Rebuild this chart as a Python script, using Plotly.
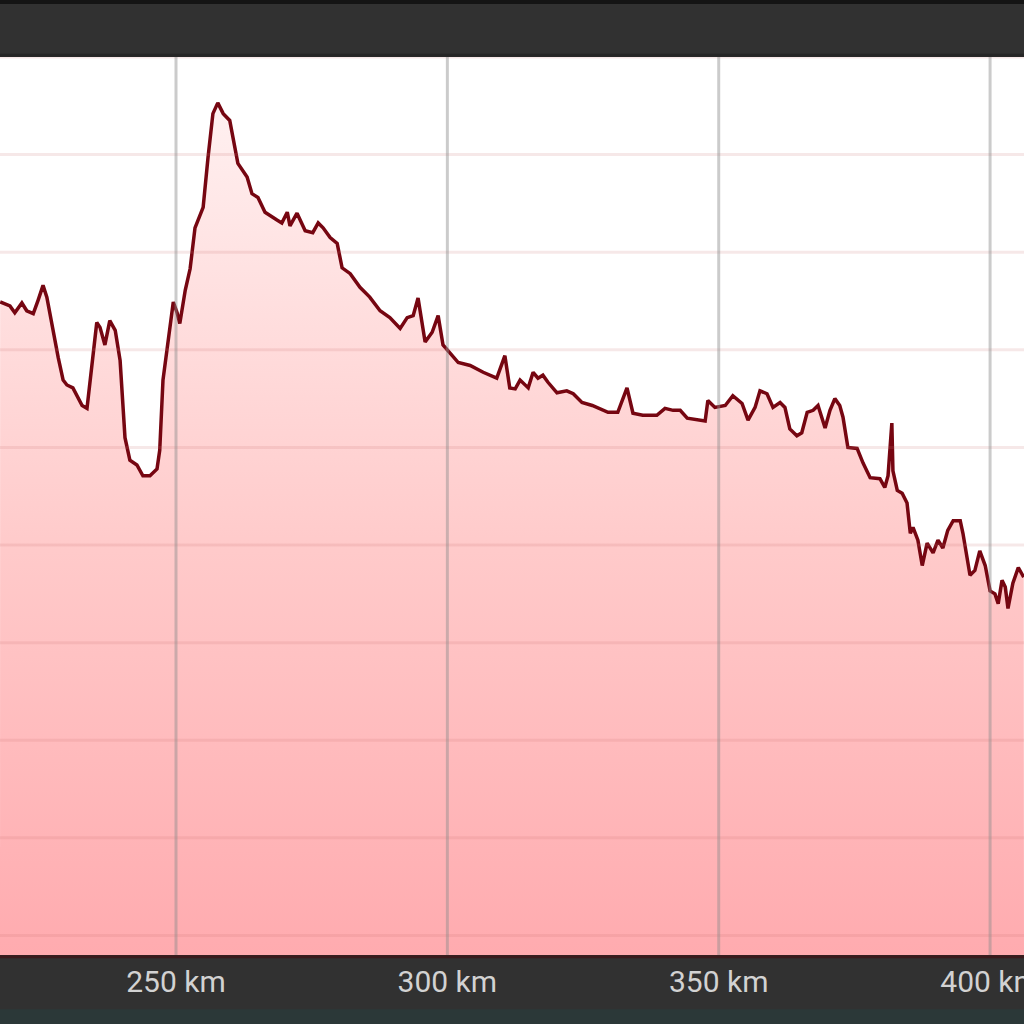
import plotly.graph_objects as go

# distance along route (km) and elevation (m)
km = [
    217.6, 219.4, 220.3, 221.6, 222.5, 223.7, 224.6, 225.5, 226.2, 227.2,
    228.3, 229.2, 229.9, 231.0, 232.7, 233.6, 234.5, 235.4, 236.0, 236.9,
    237.8, 238.8, 239.7, 240.6, 241.5, 242.8, 243.9, 245.2, 246.5, 247.0,
    247.6, 248.5, 249.5, 250.2, 250.7, 251.7, 252.6, 253.5, 255.0, 255.9,
    256.8, 257.7, 258.7, 259.9, 261.4, 263.1, 264.0, 265.1, 266.4, 268.6,
    269.5, 270.5, 271.0, 272.3, 273.8, 275.2, 276.2, 277.1, 278.4, 279.7,
    280.6, 282.1, 283.9, 285.7, 287.6, 289.4, 291.3, 292.6, 293.7, 294.6,
    295.9, 297.2, 298.3, 299.2, 300.1, 302.0, 304.2, 306.6, 309.1, 310.6,
    311.5, 312.5, 313.4, 314.9, 315.8, 316.7, 317.6, 318.5, 320.2, 322.0,
    323.2, 324.8, 326.7, 328.1, 329.6, 331.4, 333.1, 334.2, 336.0, 338.6,
    340.1, 341.6, 342.9, 344.2, 346.0, 347.5, 348.0, 349.3, 351.2, 352.6,
    354.3, 355.4, 356.7, 357.6, 358.9, 360.0, 361.3, 362.2, 363.1, 364.4,
    365.3, 366.3, 367.4, 368.3, 369.6, 370.5, 371.4, 372.3, 372.9, 373.8,
    375.5, 376.6, 377.9, 379.7, 380.6, 381.2, 381.9, 382.1, 382.9, 383.8,
    384.7, 385.3, 385.8, 386.7, 387.5, 388.4, 389.5, 390.4, 391.3, 392.2,
    393.2, 394.5, 395.0, 395.8, 396.3, 397.2, 398.1, 399.1, 400.0, 400.9,
    401.5, 402.2, 402.8, 403.3, 404.2, 405.2, 406.2,
]
elevation = [
    649, 645, 638, 648, 640, 637, 651, 666, 654, 623,
    592, 569, 564, 561, 543, 540, 582, 628, 623, 605,
    630, 620, 589, 510, 487, 482, 471, 471, 478, 497,
    569, 607, 649, 638, 627, 661, 683, 725, 746, 797,
    842, 853, 842, 835, 791, 777, 760, 756, 741, 733,
    730, 741, 727, 740, 722, 720, 730, 725, 715, 709,
    684, 678, 664, 654, 640, 633, 622, 633, 635, 653,
    608, 618, 635, 605, 599, 587, 584, 577, 571, 594,
    561, 560, 569, 561, 577, 571, 574, 567, 556, 558,
    555, 546, 543, 540, 536, 536, 561, 535, 533, 533,
    540, 538, 538, 530, 528, 527, 548, 541, 543, 553,
    545, 528, 541, 558, 555, 541, 546, 541, 519, 512,
    515, 536, 538, 543, 520, 538, 550, 543, 531, 500,
    499, 484, 469, 468, 459, 471, 525, 476, 456, 453,
    443, 412, 418, 405, 379, 402, 392, 405, 397, 415,
    425, 425, 412, 384, 369, 374, 394, 379, 353, 350,
    340, 364, 357, 335, 361, 377, 367,
]

tick_km = [250, 300, 350, 400]
tick_text = ["250 km", "300 km", "350 km", "400 km"]
grid_elev = [0, 100, 200, 300, 400, 500, 600, 700, 800, 900]

x_range = [217.57, 406.25]
y_range = [-20, 900]

fig = go.Figure()

# invisible floor so the fill reaches the bottom of the plot
fig.add_trace(go.Scatter(
    x=[x_range[0], x_range[1]], y=[y_range[0], y_range[0]],
    mode="lines", line=dict(width=0), hoverinfo="skip", showlegend=False,
))

fig.add_trace(go.Scatter(
    x=km, y=elevation,
    mode="lines",
    line=dict(color="#760611", width=3.5),
    fill="tonexty",
    fillgradient=dict(
        type="vertical",
        start=y_range[0], stop=y_range[1],
        colorscale=[[0, "#ffabaf"], [0.45, "#ffcaca"], [1, "#fff4f4"]],
    ),
    showlegend=False,
))

shapes = []
for g in grid_elev:
    shapes.append(dict(
        type="line", xref="paper", x0=0, x1=1, yref="y", y0=g, y1=g,
        line=dict(color="rgba(200,110,110,0.16)", width=3), layer="above",
    ))
for t in tick_km:
    shapes.append(dict(
        type="line", xref="x", x0=t, x1=t, yref="paper", y0=0, y1=1,
        line=dict(color="rgba(140,140,140,0.45)", width=3), layer="above",
    ))
# header / footer strips
shapes.append(dict(type="rect", xref="paper", yref="paper", x0=0, x1=1,
                   y0=1.059, y1=1.0635, fillcolor="#141414", line_width=0))
shapes.append(dict(type="line", xref="paper", yref="paper", x0=0, x1=1,
                   y0=1.002, y1=1.002, line=dict(color="#262626", width=3)))
shapes.append(dict(type="rect", xref="paper", yref="paper", x0=0, x1=1,
                   y0=-0.0768, y1=-0.0605, fillcolor="#2b3838", line_width=0))
shapes.append(dict(type="line", xref="paper", yref="paper", x0=0, x1=1,
                   y0=-0.002, y1=-0.002, line=dict(color="#3a1a1c", width=3)))

fig.update_layout(
    width=1024, height=1024,
    margin=dict(l=0, r=0, t=57, b=69, autoexpand=False),
    paper_bgcolor="#313131",
    plot_bgcolor="#ffffff",
    showlegend=False,
    shapes=shapes,
    font=dict(family="Roboto, Arial, sans-serif"),
)
fig.update_xaxes(
    range=x_range, showgrid=False, zeroline=False, showline=False,
    tickvals=tick_km, ticktext=tick_text,
    tickfont=dict(color="#d2d2d2", size=30),
    ticks="", ticklabelstandoff=6, ticklabeloverflow="allow",
    automargin=False,
)
fig.update_yaxes(
    range=y_range, showgrid=False, zeroline=False, showline=False,
    showticklabels=False, automargin=False,
)

fig.write_html(
    "out.html",
    config={"displayModeBar": False},
    post_script="document.body.style.margin='0';document.body.style.overflow='hidden';",
)
